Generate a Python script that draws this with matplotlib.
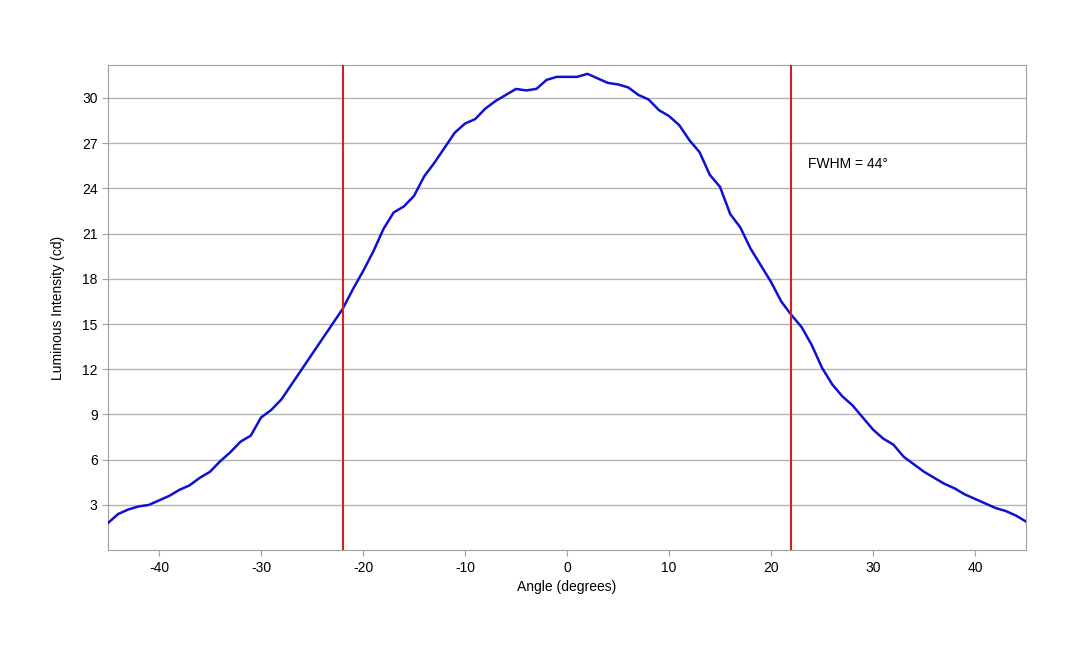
import numpy as np
import matplotlib.pyplot as plt

plt.rcParams['font.family'] = ['Liberation Sans', 'DejaVu Sans']
plt.rcParams['axes.unicode_minus'] = False

angle = np.arange(-45, 46)
intensity = [1.8, 2.4, 2.7, 2.9, 3.0, 3.3, 3.6, 4.0, 4.3, 4.8, 5.2, 5.9, 6.5, 7.2, 7.6,
             8.8, 9.3, 10.0, 11.0, 12.0, 13.0, 14.0, 15.0, 16.0, 17.3, 18.5, 19.8, 21.3,
             22.4, 22.8, 23.5, 24.8, 25.7, 26.7, 27.7, 28.3, 28.6, 29.3, 29.8, 30.2, 30.6,
             30.5, 30.6, 31.2, 31.4, 31.4, 31.4, 31.6, 31.3, 31.0, 30.9, 30.7, 30.2, 29.9,
             29.2, 28.8, 28.2, 27.2, 26.4, 24.9, 24.1, 22.3, 21.4, 20.0, 18.9, 17.8, 16.5,
             15.6, 14.8, 13.6, 12.1, 11.0, 10.2, 9.6, 8.8, 8.0, 7.4, 7.0, 6.2, 5.7, 5.2,
             4.8, 4.4, 4.1, 3.7, 3.4, 3.1, 2.8, 2.6, 2.3, 1.9]
fwhm_edges = [-22, 22]

fig = plt.figure(figsize=(10.8, 6.48), dpi=100)
ax = fig.add_axes([0.1, 0.151, 0.85, 0.749])
ax.plot(angle, intensity, color='#1010d0', linewidth=1.8, zorder=3)
for x in fwhm_edges:
    ax.axvline(x, color='#d42020', linewidth=1.5, zorder=4)
ax.text(23.6, 25.6, 'FWHM = 44°', fontsize=10, va='center')

ax.set_xlim(-45, 45)
ax.set_ylim(0, 32.2)
ax.set_xticks(range(-40, 41, 10))
ax.set_yticks(range(3, 31, 3))
ax.yaxis.grid(True, color='#b4b4b4', linewidth=1)
ax.set_axisbelow(True)
for s in ax.spines.values():
    s.set_color('#a0a0a0')
ax.tick_params(colors='#a0a0a0', labelcolor='black', labelsize=10, length=4)
ax.set_xlabel('Angle (degrees)', fontsize=10)
ax.set_ylabel('Luminous Intensity (cd)', fontsize=10, labelpad=12)
fig.savefig('out.png')
